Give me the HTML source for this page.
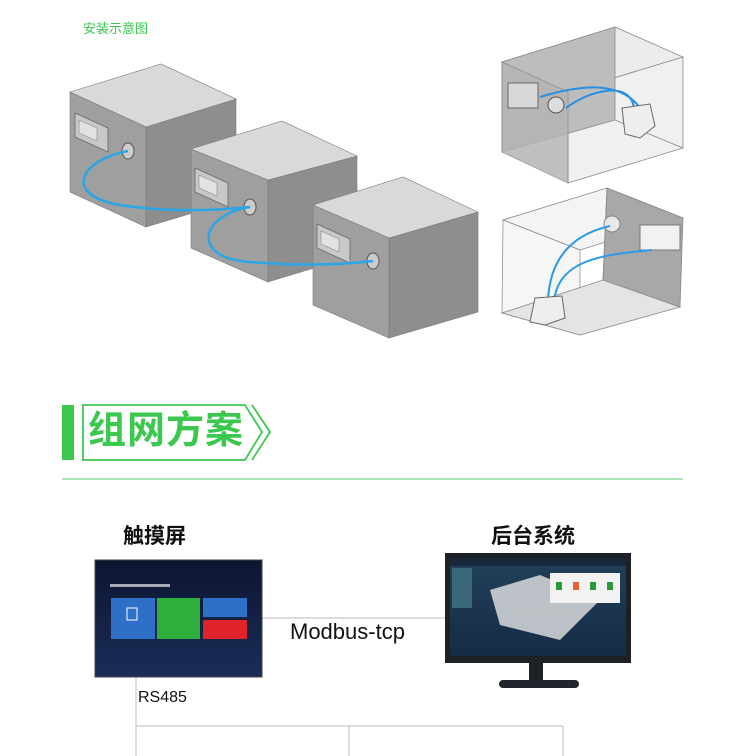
<!DOCTYPE html>
<html><head><meta charset="utf-8">
<style>
html,body{margin:0;padding:0;background:#fff;}
body{width:750px;height:756px;position:relative;overflow:hidden;font-family:"Liberation Sans","Noto Sans CJK SC",sans-serif;}
.t{position:absolute;white-space:nowrap;}
</style></head><body>
<svg width="750" height="756" style="position:absolute;left:0;top:0">
<!-- Box1 -->
<g stroke="#7a7a7a" stroke-width="0.6">
<polygon points="146,127 236,99 236,200 146,227" fill="#8e8e8e"/>
<polygon points="70,92 161,64 236,99 146,127" fill="#d9d9d9"/>
<polygon points="70,92 146,127 146,227 70,192" fill="#9f9f9f"/>
</g>
<polygon points="75,113 108,128 108,152 75,137" fill="#c8c8c8" stroke="#666" stroke-width="0.8"/>
<polygon points="79,120 97,128 97,141 79,133" fill="#e2e2e2" stroke="#777" stroke-width="0.5"/>
<ellipse cx="128" cy="151" rx="6" ry="8" fill="#ccc" stroke="#555"/>
<!-- Box2 -->
<g stroke="#7a7a7a" stroke-width="0.6">
<polygon points="268,180 357,156 357,255 268,282" fill="#8e8e8e"/>
<polygon points="191,149 282,121 357,156 268,180" fill="#d9d9d9"/>
<polygon points="191,149 268,180 268,282 191,248" fill="#9f9f9f"/>
</g>
<polygon points="195,168 228,183 228,207 195,192" fill="#c8c8c8" stroke="#666" stroke-width="0.8"/>
<polygon points="199,175 217,183 217,196 199,188" fill="#e2e2e2" stroke="#777" stroke-width="0.5"/>
<ellipse cx="250" cy="207" rx="6" ry="8" fill="#ccc" stroke="#555"/>
<path d="M128,151 C80,160 62,195 120,205 C170,213 220,210 250,207" fill="none" stroke="#2aa6e6" stroke-width="2.5"/>
<!-- Box3 -->
<g stroke="#7a7a7a" stroke-width="0.6">
<polygon points="389,238 478,212 478,312 389,338" fill="#8e8e8e"/>
<polygon points="313,205 403,177 478,212 389,238" fill="#d9d9d9"/>
<polygon points="313,205 389,238 389,338 313,305" fill="#9f9f9f"/>
</g>
<polygon points="317,224 350,239 350,263 317,248" fill="#c8c8c8" stroke="#666" stroke-width="0.8"/>
<polygon points="321,231 339,239 339,252 321,244" fill="#e2e2e2" stroke="#777" stroke-width="0.5"/>
<ellipse cx="373" cy="261" rx="6" ry="8" fill="#ccc" stroke="#555"/>
<path d="M250,207 C200,215 190,258 250,262 C300,266 340,265 373,261" fill="none" stroke="#2aa6e6" stroke-width="2.5"/>

<!-- Top-right transparent box -->
<g stroke="#888" stroke-width="0.8">
<polygon points="502,62 615,27 683,57 568,92" fill="#ececec"/>
<polygon points="568,92 683,57 683,148 568,183" fill="#f0f0f0"/>
<polygon points="615,27 615,120 502,152 502,62" fill="#bdbdbd"/>
<polygon points="502,62 568,92 568,183 502,152" fill="#b4b4b4" opacity="0.85"/>
<polyline points="615,120 683,148" fill="none"/>
</g>
<rect x="508" y="83" width="30" height="25" fill="#d8d8d8" stroke="#666"/>
<circle cx="556" cy="105" r="8" fill="#ddd" stroke="#555"/>
<path d="M540,97 C580,85 620,80 640,108 M566,108 C590,90 630,80 634,108" fill="none" stroke="#2a8fe0" stroke-width="2"/>
<polygon points="622,108 650,104 655,126 640,138 625,134" fill="#eee" stroke="#666"/>
<!-- Bottom-right box -->
<g stroke="#888" stroke-width="0.8">
<polygon points="503,220 607,188 683,218 580,250" fill="#f4f4f4"/>
<polygon points="607,188 683,218 680,307 603,280" fill="#a8a8a8"/>
<polygon points="503,220 580,250 580,335 502,313" fill="#f6f6f6" opacity="0.9"/>
<polygon points="502,313 603,280 680,307 580,335" fill="#e4e4e4"/>
<polyline points="607,188 603,280" fill="none"/>
</g>
<circle cx="612" cy="224" r="8" fill="#e8e8e8" stroke="#888"/>
<rect x="640" y="225" width="40" height="25" fill="#f2f2f2" stroke="#777"/>
<path d="M610,226 C570,235 550,260 548,300 M652,250 C600,255 560,260 554,300" fill="none" stroke="#2a9be6" stroke-width="2"/>
<polygon points="535,298 562,296 565,318 545,325 530,322" fill="#eee" stroke="#666"/>

<!-- Section header -->
<rect x="62" y="405" width="12" height="55" fill="#3cc84f"/>
<polygon points="83,405 245,405 262,432 245,460 83,460" fill="none" stroke="#3cc84f" stroke-width="1.8"/>
<polyline points="252,405 270,432 252,460" fill="none" stroke="#3cc84f" stroke-width="1.8"/>
<line x1="62" y1="479" x2="683" y2="479" stroke="#7ad88a" stroke-width="1.2"/>

<!-- network lines -->
<g stroke="#c8c8c8" stroke-width="1.2" fill="none">
<line x1="262" y1="618" x2="447" y2="618"/>
<line x1="136" y1="677" x2="136" y2="756"/>
<line x1="136" y1="726" x2="563" y2="726"/>
<line x1="349" y1="726" x2="349" y2="756"/>
<line x1="563" y1="726" x2="563" y2="756"/>
</g>

<!-- tablet -->
<defs><linearGradient id="tg" x1="0" y1="0" x2="0" y2="1"><stop offset="0" stop-color="#0c1630"/><stop offset="1" stop-color="#1b2c58"/></linearGradient>
<linearGradient id="sg" x1="0" y1="0" x2="0" y2="1"><stop offset="0" stop-color="#22405a"/><stop offset="1" stop-color="#152c44"/></linearGradient></defs>
<rect x="95" y="560" width="167" height="117" fill="url(#tg)" stroke="#444"/>
<rect x="110" y="584" width="60" height="3" fill="#aab"/>
<rect x="111" y="598" width="44" height="41" fill="#2e6fc8"/>
<rect x="157" y="598" width="43" height="41" fill="#2fae3e"/>
<rect x="203" y="598" width="44" height="19" fill="#2e6fc8"/>
<rect x="203" y="620" width="44" height="19" fill="#e0222b"/>
<rect x="127" y="608" width="10" height="12" fill="none" stroke="#fff"/>

<!-- monitor -->
<rect x="445" y="553" width="186" height="110" fill="#1d2024"/>
<rect x="450" y="558" width="176" height="98" fill="url(#sg)"/>
<rect x="450" y="558" width="176" height="8" fill="#16283a"/>
<rect x="452" y="568" width="20" height="40" fill="#3b6878"/>
<polygon points="490,590 540,575 600,600 560,640 500,625" fill="#d8dadc" opacity="0.85"/>
<rect x="550" y="573" width="70" height="30" fill="#f2f2f2"/>
<rect x="556" y="582" width="6" height="8" fill="#2a9a3a"/>
<rect x="573" y="582" width="6" height="8" fill="#e8642a"/>
<rect x="590" y="582" width="6" height="8" fill="#2a9a3a"/>
<rect x="607" y="582" width="6" height="8" fill="#2a9a3a"/>
<rect x="529" y="663" width="14" height="18" fill="#1d2024"/>
<rect x="499" y="680" width="80" height="8" rx="4" fill="#22262c"/>
</svg>

<div class="t" style="left:83px;top:18px;font-size:13px;color:#3cc84f;">安装示意图</div>
<div class="t" style="left:88px;top:409px;font-size:38px;font-weight:bold;color:#3cc84f;line-height:44px;letter-spacing:1px;">组网方案</div>
<div class="t" style="left:123px;top:524px;font-size:21px;color:#111;font-weight:bold;line-height:26px;">触摸屏</div>
<div class="t" style="left:491px;top:524px;font-size:21px;color:#111;font-weight:bold;line-height:26px;">后台系统</div>
<div class="t" style="left:290px;top:619px;font-size:22px;color:#111;">Modbus-tcp</div>
<div class="t" style="left:138px;top:689px;font-size:16px;color:#111;">RS485</div>
</body></html>
